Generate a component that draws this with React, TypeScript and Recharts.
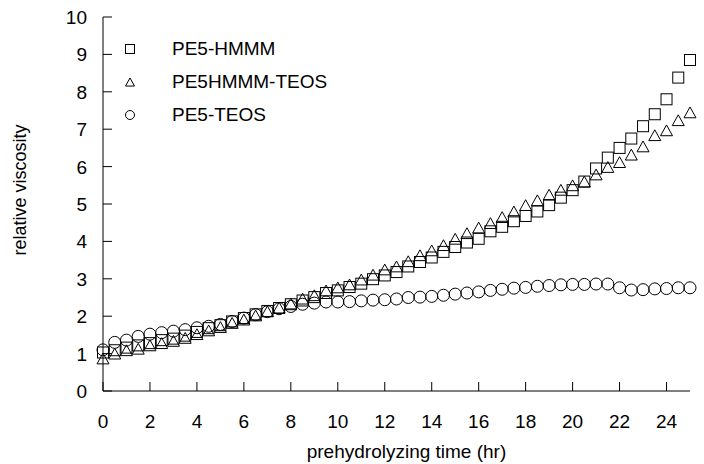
import React from "react";
import {
  ScatterChart,
  Scatter,
  XAxis,
  YAxis,
} from "recharts";

/* ---------- data ---------- */

const times = [
  0, 0.5, 1, 1.5, 2, 2.5, 3, 3.5, 4, 4.5, 5, 5.5, 6, 6.5, 7, 7.5, 8, 8.5, 9,
  9.5, 10, 10.5, 11, 11.5, 12, 12.5, 13, 13.5, 14, 14.5, 15, 15.5, 16, 16.5,
  17, 17.5, 18, 18.5, 19, 19.5, 20, 20.5, 21, 21.5, 22, 22.5, 23, 23.5, 24,
  24.5, 25,
];

const pe5Hmmm = [
  1.03, 1.09, 1.16, 1.22, 1.28, 1.36, 1.4, 1.48, 1.58, 1.68, 1.76, 1.86, 1.95,
  2.05, 2.14, 2.22, 2.32, 2.42, 2.51, 2.62, 2.69, 2.78, 2.87, 2.99, 3.09, 3.18,
  3.33, 3.45, 3.57, 3.72, 3.85, 3.97, 4.07, 4.27, 4.39, 4.54, 4.68, 4.8, 4.97,
  5.17, 5.37, 5.6, 5.95, 6.24, 6.5, 6.75, 7.08, 7.4, 7.8, 8.38, 8.85,
];

const pe5HmmmTeos = [
  0.87, 1.0, 1.09, 1.13, 1.22, 1.28, 1.34, 1.42, 1.52, 1.62, 1.71, 1.82, 1.91,
  2.02, 2.13, 2.23, 2.34, 2.47, 2.56, 2.69, 2.77, 2.85, 2.98, 3.11, 3.25, 3.33,
  3.47, 3.63, 3.76, 3.9, 4.07, 4.22, 4.37, 4.49, 4.65, 4.8, 4.97, 5.1, 5.25,
  5.38, 5.5, 5.6, 5.79, 5.99, 6.12, 6.32, 6.54, 6.84, 6.97, 7.24, 7.45,
];

const pe5Teos = [
  1.1, 1.3, 1.36, 1.46, 1.52, 1.56, 1.6, 1.64, 1.69, 1.73, 1.78, 1.86, 1.95,
  2.04, 2.12, 2.2, 2.26, 2.32, 2.35, 2.38, 2.38, 2.39, 2.41, 2.43, 2.44, 2.46,
  2.5, 2.51, 2.53, 2.56, 2.59, 2.62, 2.65, 2.69, 2.72, 2.75, 2.77, 2.8, 2.82,
  2.84, 2.85, 2.85, 2.86, 2.86, 2.76, 2.7, 2.71, 2.73, 2.74, 2.76, 2.76,
];

const xTicks = [0, 2, 4, 6, 8, 10, 12, 14, 16, 18, 20, 22, 24];
const yTicks = [0, 1, 2, 3, 4, 5, 6, 7, 8, 9, 10];

const seriesNames = ["PE5-HMMM", "PE5HMMM-TEOS", "PE5-TEOS"];

const toPoints = (vals: number[]) => times.map((t, i) => ({ t, v: vals[i] }));

/* ---------- marker shapes ---------- */

const FONT = "'Liberation Sans', Arial, Helvetica, sans-serif";
const INK = "#000";

function SquareMark({ cx, cy, s = 11 }: any) {
  return (
    <rect
      x={cx - s / 2}
      y={cy - s / 2}
      width={s}
      height={s}
      fill="none"
      stroke={INK}
      strokeWidth={1}
    />
  );
}

function TriangleMark({ cx, cy, s = 12 }: any) {
  const h = s * 0.9;
  return (
    <polygon
      points={`${cx},${cy - h / 2} ${cx - s / 2},${cy + h / 2} ${cx + s / 2},${cy + h / 2}`}
      fill="none"
      stroke={INK}
      strokeWidth={1}
    />
  );
}

function CircleMark({ cx, cy, s = 12 }: any) {
  return <circle cx={cx} cy={cy} r={s / 2} fill="none" stroke={INK} strokeWidth={1} />;
}

/* ---------- axis ticks (drawn inward) ---------- */

function XTick({ x, y, payload }: any) {
  return (
    <g>
      <line x1={x} y1={y} x2={x} y2={y - 9} stroke={INK} strokeWidth={1} />
      <text x={x} y={y + 37} textAnchor="middle" fontSize={19} fontFamily={FONT} fill={INK}>
        {payload.value}
      </text>
    </g>
  );
}

function YTick({ x, y, payload }: any) {
  return (
    <g>
      <line x1={x} y1={y} x2={x + 9} y2={y} stroke={INK} strokeWidth={1} />
      <text x={x - 16} y={y + 7} textAnchor="end" fontSize={19} fontFamily={FONT} fill={INK}>
        {payload.value}
      </text>
    </g>
  );
}

/* ---------- legend (overlay) ---------- */

function LegendBox() {
  const marks = [SquareMark, TriangleMark, CircleMark];
  return (
    <div
      style={{
        position: "absolute",
        left: 123,
        top: 32,
        fontFamily: FONT,
        fontSize: 19,
        color: INK,
      }}
    >
      {seriesNames.map((name, i) => {
        const Mark = marks[i];
        return (
          <div key={name} style={{ display: "flex", alignItems: "center", height: 33 }}>
            <svg width={14} height={14} style={{ marginRight: 35 }}>
              <Mark cx={7} cy={7} s={9} />
            </svg>
            <span>{name}</span>
          </div>
        );
      })}
    </div>
  );
}

/* ---------- chart ---------- */

export default function App() {
  return (
    <div style={{ position: "absolute", left: 0, top: 0, width: 704, height: 464, background: "#fff" }}>
      <ScatterChart
        width={704}
        height={464}
        margin={{ top: 17, right: 14, left: 0, bottom: 0 }}
      >
        <XAxis
          type="number"
          dataKey="t"
          domain={[0, 25]}
          ticks={xTicks}
          interval={0}
          tickSize={0}
          tickMargin={0}
          tickLine={false}
          axisLine={{ stroke: INK, strokeWidth: 1 }}
          tick={<XTick />}
          height={73}
          label={{
            value: "prehydrolyzing time (hr)",
            position: "insideBottom",
            offset: 6,
            dx: 10,
            style: { fontSize: 19, fontFamily: FONT, fill: INK },
          }}
        />
        <YAxis
          type="number"
          dataKey="v"
          domain={[0, 10]}
          ticks={yTicks}
          interval={0}
          tickSize={0}
          tickMargin={0}
          tickLine={false}
          axisLine={{ stroke: INK, strokeWidth: 1 }}
          tick={<YTick />}
          width={103}
          label={{
            content: ({ viewBox }: any) => (
              <text
                transform={`translate(${viewBox.x + 20},${viewBox.y + viewBox.height / 2 - 14}) rotate(-90)`}
                textAnchor="middle"
                dominantBaseline="central"
                fontSize={18}
                fontFamily={FONT}
                fill={INK}
              >
                relative viscosity
              </text>
            ),
          }}
        />
        <Scatter
          name={seriesNames[0]}
          data={toPoints(pe5Hmmm)}
          shape={<SquareMark />}
          isAnimationActive={false}
        />
        <Scatter
          name={seriesNames[1]}
          data={toPoints(pe5HmmmTeos)}
          shape={<TriangleMark />}
          isAnimationActive={false}
        />
        <Scatter
          name={seriesNames[2]}
          data={toPoints(pe5Teos)}
          shape={<CircleMark />}
          isAnimationActive={false}
        />
      </ScatterChart>
      <LegendBox />
    </div>
  );
}
